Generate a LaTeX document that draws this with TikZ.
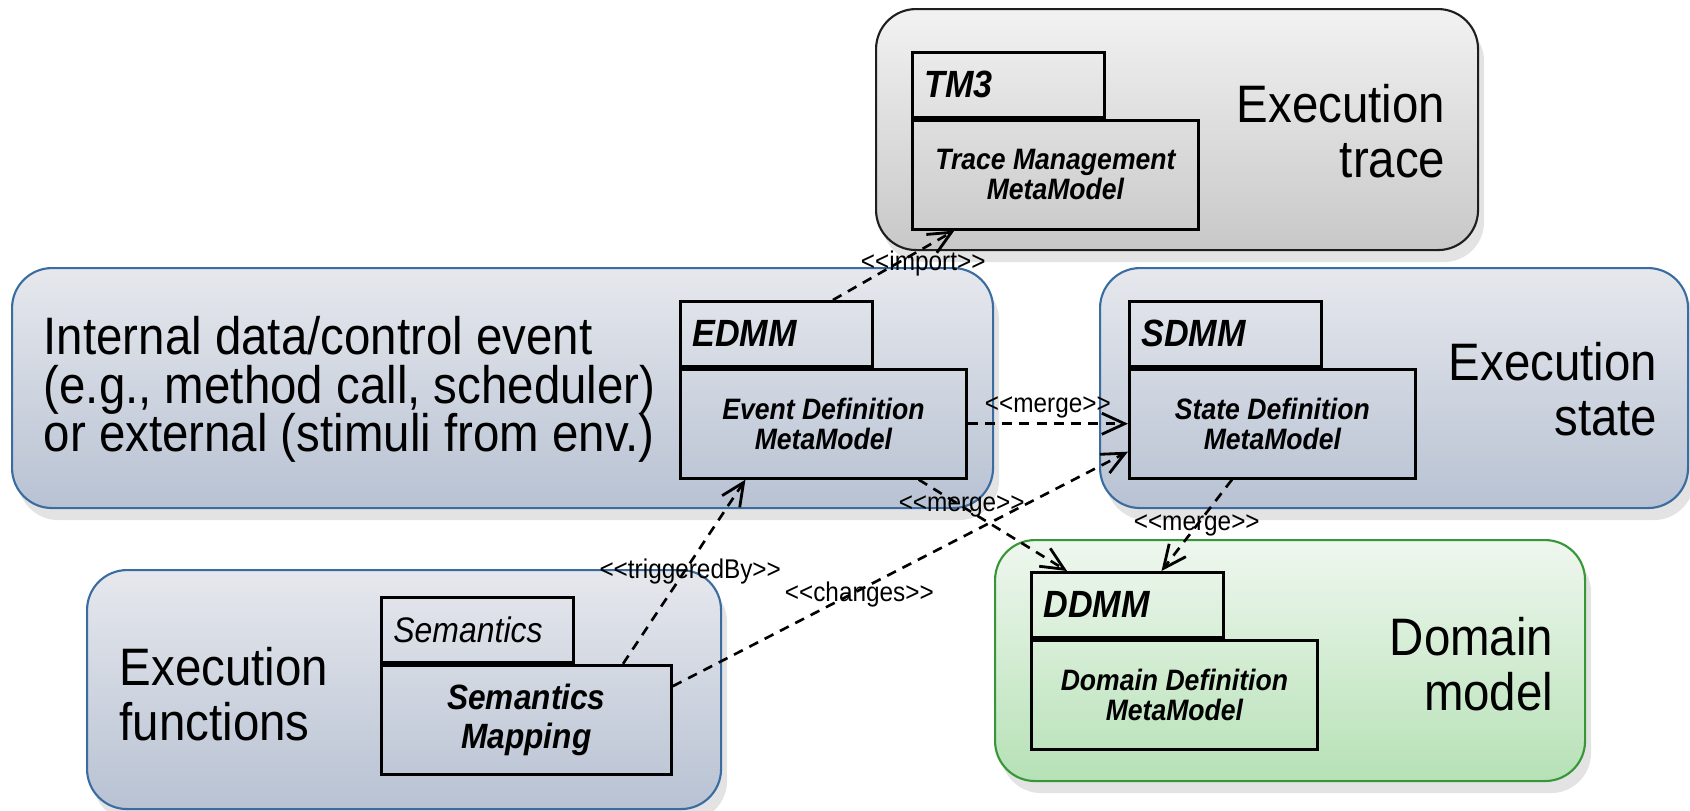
\documentclass[tikz,border=0pt]{standalone}
\usepackage{fontspec}
\setmainfont{Liberation Sans}[FakeStretch=0.9]
\usetikzlibrary{arrows.meta, positioning, calc, shadows}

\definecolor{areablue}{RGB}{58, 108, 160}
\definecolor{areagreen}{RGB}{55, 150, 55}
\definecolor{areagrey}{RGB}{30, 30, 30}
\definecolor{bluetop}{RGB}{230, 232, 237}
\definecolor{bluebottom}{RGB}{184, 194, 211}
\definecolor{greytop}{RGB}{242, 242, 242}
\definecolor{greybottom}{RGB}{200, 200, 200}
\definecolor{greentop}{RGB}{239, 247, 239}
\definecolor{greenbottom}{RGB}{182, 225, 182}

\tikzset{
  area/.style={draw, rounded corners=4mm, line width=0.6pt, anchor=north west, inner sep=0pt,
    drop shadow={shadow xshift=0.6mm, shadow yshift=-1.2mm, opacity=0.22}},
  bluearea/.style={area, draw=areablue, top color=bluetop, bottom color=bluebottom},
  greyarea/.style={area, draw=areagrey, top color=greytop, bottom color=greybottom},
  greenarea/.style={area, draw=areagreen, top color=greentop, bottom color=greenbottom},
  bigtext/.style={inner sep=0pt, font={\fontsize{15}{15.4}\selectfont\lineskiplimit=-20pt}},
  pkgtab/.style={draw, line width=0.8pt, anchor=north west, inner xsep=1.2mm, inner ysep=0pt,
    text width=16.8mm, align=left, minimum height=6.5mm,
    font=\fontsize{10.8}{12}\selectfont\bfseries\itshape},
  pkgbody/.style={draw, line width=0.8pt, anchor=north west, inner sep=0pt,
    minimum width=28.6mm, minimum height=10.9mm, align=center,
    font={\fontsize{8.4}{8.6}\selectfont\lineskiplimit=-20pt\bfseries\itshape}},
  dep/.style={line width=0.75pt, dash pattern=on 2.8pt off 2.1pt,
    -{Straight Barb[length=6.5pt, width=6pt, line width=0.8pt]}},
  stereo/.style={inner sep=0pt, font=\fontsize{7.7}{8}\selectfont}
}

\begin{document}
\begin{tikzpicture}[x=0.1mm, y=-0.1mm]
  \useasboundingbox (0,0) rectangle (1690,810);

  % areas
  \node[greyarea, minimum width=60.2mm, minimum height=24.1mm] (tracearea) at (875,8) {};
  \node[bluearea, minimum width=98.1mm, minimum height=24mm] (eventarea) at (11,267) {};
  \node[bluearea, minimum width=58.8mm, minimum height=24mm] (statearea) at (1099,267) {};
  \node[bluearea, minimum width=63.4mm, minimum height=23.9mm] (funcarea) at (86,569) {};
  \node[greenarea, minimum width=59mm, minimum height=24.1mm] (domainarea) at (994,539) {};

  \node[bigtext, anchor=north east, align=right] (tracetext) at (1446,84) {Execution\\trace};
  \node[bigtext, anchor=north west, align=left, font={\fontsize{15}{13.8}\selectfont\lineskiplimit=-20pt}]
    (eventtext) at (43,316) {Internal data/control event\\(e.g., method call, scheduler)\\or external (stimuli from env.)};
  \node[bigtext, anchor=north east, align=right] (statetext) at (1658,342) {Execution\\state};
  \node[bigtext, anchor=north west, align=left] (functext) at (119,647) {Execution\\functions};
  \node[bigtext, anchor=north east, align=right] (domaintext) at (1554,617) {Domain\\model};

  % packages
  \node[pkgtab] (tracetab) at (911,51) {TM3};
  \node[pkgbody] (tracebody) at (tracetab.south west) {Trace Management\\MetaModel};
  \node[pkgtab] (edmmtab) at (679,300) {EDMM};
  \node[pkgbody] (edmmbody) at (edmmtab.south west) {Event Definition\\MetaModel};
  \node[pkgtab] (sdmmtab) at (1128,300) {SDMM};
  \node[pkgbody] (sdmmbody) at (sdmmtab.south west) {State Definition\\MetaModel};
  \node[pkgtab, font=\fontsize{10.1}{12}\selectfont\itshape] (semtab) at (380,596) {Semantics};
  \node[pkgbody, minimum width=29mm, font={\fontsize{10}{11}\selectfont\lineskiplimit=-20pt\bfseries\itshape}]
    (sembody) at (semtab.south west) {Semantics\\Mapping};
  \node[pkgtab] (ddmmtab) at (1030,571) {DDMM};
  \node[pkgbody] (ddmmbody) at (ddmmtab.south west) {Domain Definition\\MetaModel};

  % dependencies
  \draw[dep] ($(edmmtab.north west)!0.79!(edmmtab.north east)$)
    -- node[stereo, pos=0.53, xshift=2.6mm] (importlbl) {<{}<import>{}>}
    ($(tracebody.south west)!0.15!(tracebody.south east)$);
  \draw[dep] (edmmbody.east) -- node[stereo, above=0.4mm] (mergelbl) {<{}<merge>{}>} (sdmmbody.west);
  \draw[dep] ($(edmmbody.south west)!0.83!(edmmbody.south east)$)
    -- node[stereo, pos=0.29] (mergelbla) {<{}<merge>{}>}
    ($(ddmmtab.north west)!0.19!(ddmmtab.north east)$);
  \draw[dep] ($(sdmmbody.south west)!0.36!(sdmmbody.south east)$)
    -- node[stereo, pos=0.5] (mergelblb) {<{}<merge>{}>}
    ($(ddmmtab.north west)!0.675!(ddmmtab.north east)$);
  \draw[dep] ($(sembody.north west)!0.83!(sembody.north east)$)
    -- node[stereo, pos=0.5, xshift=0.6mm] (triglbl) {<{}<triggeredBy>{}>}
    ($(edmmbody.south west)!0.23!(edmmbody.south east)$);
  \draw[dep] ($(sembody.north east)!0.2!(sembody.south east)$)
    -- node[stereo, pos=0.39, xshift=0.9mm] (changelbl) {<{}<changes>{}>}
    ($(sdmmbody.north west)!0.75!(sdmmbody.south west)$);
\end{tikzpicture}
\end{document}
